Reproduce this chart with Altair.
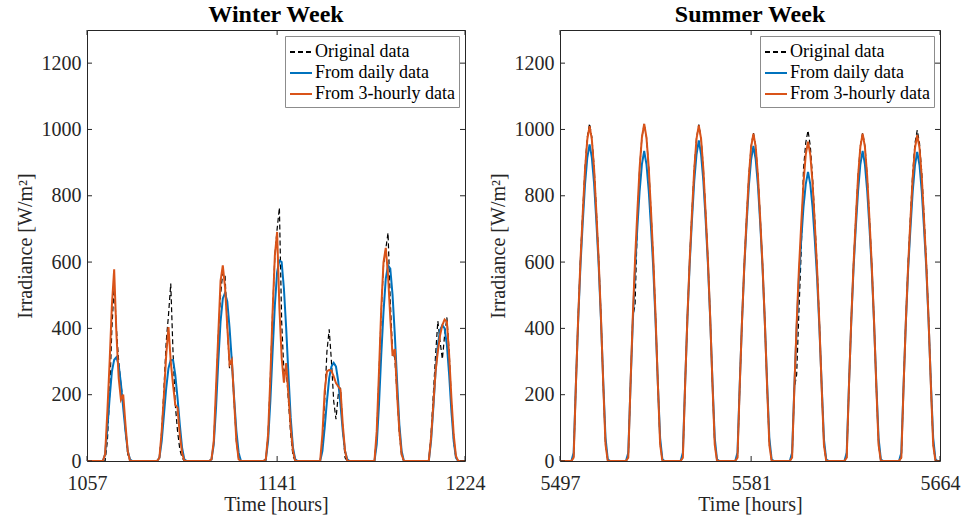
import altair as alt
import pandas as pd

# ---------------- data ----------------
series_names = ["Original data", "From daily data", "From 3-hourly data"]
series_colors = ["#000000", "#0072BD", "#D95319"]
series_dash = [[5, 3], [1, 0], [1, 0]]
series_width = [1.2, 2.0, 2.0]

y_ticks = [0, 200, 400, 600, 800, 1000, 1200]

winter_range = [1057, 1224]
winter_xticks = [1057, 1141, 1224]
summer_range = [5497, 5664]
summer_xticks = [5497, 5581, 5664]

# each entry: (first hour, hourly values) ; hours not listed are 0
winter_original = [
    (1065, [0, 60, 200, 400, 530, 400, 300, 230, 180, 90, 20, 0]),
    (1089, [10, 90, 220, 360, 440, 535, 330, 170, 90, 35, 10, 0]),
    (1112, [0, 60, 200, 380, 500, 570, 560, 400, 280, 300, 180, 60, 5, 0]),
    (1136, [0, 80, 250, 450, 620, 700, 764, 420, 270, 280, 180, 80, 15, 0]),
    (1160, [0, 50, 180, 330, 397, 300, 180, 126, 200, 221, 100, 10, 0]),
    (1184, [0, 80, 260, 450, 590, 640, 688, 480, 330, 310, 200, 80, 15, 0]),
    (1208, [0, 80, 200, 320, 422, 360, 307, 380, 433, 330, 180, 60, 10, 0]),
]
winter_daily = [
    (1064, [0, 20, 100, 190, 270, 305, 313, 290, 232, 160, 90, 30, 5, 0]),
    (1088, [0, 10, 60, 140, 220, 280, 305, 305, 260, 190, 110, 40, 5, 0]),
    (1111, [0, 5, 50, 160, 300, 420, 490, 507, 480, 400, 300, 190, 90, 25, 0]),
    (1135, [0, 5, 60, 180, 330, 470, 570, 605, 600, 520, 400, 260, 130, 40, 5, 0]),
    (1159, [0, 0, 30, 100, 180, 250, 285, 296, 285, 240, 170, 90, 30, 5, 0]),
    (1183, [0, 0, 50, 170, 320, 450, 550, 590, 580, 500, 380, 240, 110, 30, 0]),
    (1207, [0, 0, 60, 160, 270, 350, 395, 410, 400, 350, 260, 150, 60, 10, 0]),
]
winter_3hourly = [
    (1064, [0, 20, 150, 300, 470, 578, 383, 250, 185, 200, 110, 30, 0]),
    (1088, [0, 10, 90, 200, 320, 404, 300, 230, 170, 160, 80, 25, 0]),
    (1111, [0, 5, 60, 221, 382, 543, 590, 523, 402, 291, 305, 181, 60, 5, 0]),
    (1135, [0, 5, 80, 250, 450, 620, 691, 462, 311, 236, 295, 200, 100, 30, 0]),
    (1159, [0, 0, 80, 210, 270, 275, 272, 255, 235, 225, 215, 110, 30, 0]),
    (1183, [0, 0, 90, 270, 460, 600, 643, 560, 430, 317, 338, 200, 90, 20, 0]),
    (1207, [0, 0, 70, 170, 271, 330, 380, 410, 427, 420, 320, 190, 80, 15, 0]),
]

summer_original = [
    (5502, [0, 10, 234, 438, 611, 753, 886, 977, 1018, 977, 886, 753, 611, 438, 234, 50, 0]),
    (5526, [0, 10, 234, 437, 470, 720, 885, 976, 1017, 976, 885, 753, 610, 437, 234, 50, 0]),
    (5550, [0, 10, 233, 436, 609, 751, 883, 974, 1015, 974, 883, 751, 609, 436, 233, 50, 0]),
    (5574, [0, 10, 228, 426, 594, 733, 861, 950, 990, 950, 861, 733, 594, 426, 228, 50, 0]),
    (5598, [0, 10, 221, 260, 450, 630, 880, 960, 997, 950, 855, 725, 585, 418, 224, 50, 0]),
    (5622, [0, 10, 228, 426, 594, 733, 861, 950, 990, 950, 861, 733, 594, 426, 228, 50, 0]),
    (5646, [0, 10, 230, 429, 599, 738, 868, 958, 998, 958, 868, 738, 599, 429, 230, 50, 0]),
]
summer_daily = [
    (5502, [0, 25, 235, 425, 590, 720, 835, 915, 955, 915, 835, 720, 590, 425, 240, 70, 5]),
    (5526, [0, 25, 230, 420, 580, 705, 815, 895, 935, 895, 815, 705, 580, 420, 235, 70, 5]),
    (5550, [0, 25, 235, 430, 595, 728, 845, 925, 967, 925, 845, 728, 595, 430, 240, 70, 5]),
    (5574, [0, 25, 233, 423, 585, 715, 830, 910, 950, 910, 830, 715, 585, 423, 238, 70, 5]),
    (5598, [0, 25, 225, 400, 550, 665, 765, 835, 872, 835, 765, 665, 550, 400, 230, 65, 5]),
    (5622, [0, 25, 230, 420, 580, 705, 815, 895, 935, 895, 815, 705, 580, 420, 235, 70, 5]),
    (5646, [0, 25, 230, 418, 578, 700, 812, 892, 932, 892, 812, 700, 578, 418, 235, 70, 5]),
]
summer_3hourly = [
    (5502, [0, 10, 232, 434, 606, 747, 879, 970, 1010, 970, 879, 747, 606, 434, 232, 50, 0]),
    (5526, [0, 10, 234, 437, 610, 753, 885, 976, 1017, 976, 885, 753, 610, 437, 234, 50, 0]),
    (5550, [0, 10, 233, 435, 607, 749, 880, 972, 1012, 972, 880, 749, 607, 435, 233, 50, 0]),
    (5574, [0, 10, 227, 424, 592, 730, 859, 948, 987, 948, 859, 730, 592, 424, 227, 49, 0]),
    (5598, [0, 10, 221, 414, 578, 713, 838, 924, 963, 924, 838, 713, 578, 414, 221, 48, 0]),
    (5622, [0, 10, 227, 424, 592, 730, 859, 948, 987, 948, 859, 730, 592, 424, 227, 49, 0]),
    (5646, [0, 10, 226, 423, 590, 727, 855, 944, 983, 944, 855, 727, 590, 423, 226, 49, 0]),
]

# ---------------- build tables ----------------
def expand(chunks, rng, name):
    vals = {}
    for start, values in chunks:
        for i, v in enumerate(values):
            vals[start + i] = v
    return [{"hour": h, "value": vals.get(h, 0), "series": name}
            for h in range(rng[0], rng[1] + 1)]

def table(orig, daily, hourly3, rng):
    rows = (expand(orig, rng, series_names[0]) + expand(daily, rng, series_names[1])
            + expand(hourly3, rng, series_names[2]))
    return pd.DataFrame(rows)

FONT = "Liberation Serif"
TXT = "#262626"
H = 431
TICK = 5

def panel(df, rng, xticks, title, W):
    xs = alt.Scale(domain=rng, nice=False, zero=False)
    ys = alt.Scale(domain=[0, 1300], nice=False)
    xenc = alt.X("hour:Q", scale=xs,
                 axis=alt.Axis(values=xticks, format="d", title="Time [hours]",
                               labelFlush=False, labelPadding=12, titlePadding=1))
    yenc = alt.Y("value:Q", scale=ys,
                 axis=alt.Axis(values=y_ticks, format="d", title="Irradiance [W/m²]",
                               labelPadding=6, titlePadding=6))
    color = alt.Color("series:N", title="",
                      scale=alt.Scale(domain=series_names, range=series_colors),
                      legend=alt.Legend(orient="top-right", offset=6,
                                        symbolType="stroke", symbolSize=484,
                                        symbolStrokeWidth=2, labelFont=FONT,
                                        labelFontSize=18, labelColor="#000000",
                                        labelOffset=2, rowPadding=0,
                                        strokeColor="#8c8c8c", fillColor="#ffffff",
                                        padding=4, titlePadding=0, titleFontSize=0,
                                        labelLimit=300))
    dash = alt.StrokeDash("series:N", title="",
                          scale=alt.Scale(domain=series_names, range=series_dash))
    layers = []
    for name, w in zip(series_names, series_width):
        layers.append(
            alt.Chart(df[df["series"] == name]).mark_line(strokeWidth=w, clip=True)
            .encode(x=xenc, y=yenc, color=color, strokeDash=dash)
        )
    ydf = pd.DataFrame({"v": y_ticks})
    xdf = pd.DataFrame({"h": xticks})
    tick_l = alt.Chart(ydf).mark_rule(color=TXT, strokeWidth=1).encode(
        y=alt.Y("v:Q", scale=ys), x=alt.value(0), x2=alt.value(TICK))
    tick_r = alt.Chart(ydf).mark_rule(color=TXT, strokeWidth=1).encode(
        y=alt.Y("v:Q", scale=ys), x=alt.value(W - TICK), x2=alt.value(W))
    tick_b = alt.Chart(xdf).mark_rule(color=TXT, strokeWidth=1).encode(
        x=alt.X("h:Q", scale=xs), y=alt.value(H), y2=alt.value(H - TICK))
    tick_t = alt.Chart(xdf).mark_rule(color=TXT, strokeWidth=1).encode(
        x=alt.X("h:Q", scale=xs), y=alt.value(0), y2=alt.value(TICK))
    return alt.layer(*layers, tick_l, tick_r, tick_b, tick_t).properties(
        width=W, height=H,
        title=alt.TitleParams(title, font=FONT, fontSize=24, fontWeight="bold",
                              color="#000000", offset=3),
    )

winter_df = table(winter_original, winter_daily, winter_3hourly, winter_range)
summer_df = table(summer_original, summer_daily, summer_3hourly, summer_range)

left = panel(winter_df, winter_range, winter_xticks, "Winter Week", 378)
right = panel(summer_df, summer_range, summer_xticks, "Summer Week", 380)

chart = (
    alt.hconcat(left, right, spacing=1)
    .resolve_scale(color="independent", strokeDash="independent", x="independent")
    .resolve_legend(color="independent", strokeDash="independent")
    .properties(padding={"left": 14, "top": 2, "right": 0, "bottom": 0},
                background="#ffffff")
    .configure_view(stroke=TXT, strokeWidth=1)
    .configure_axis(labelFont=FONT, labelFontSize=20, titleFont=FONT, titleFontSize=20,
                    titleFontWeight="normal", labelColor=TXT, titleColor=TXT,
                    ticks=False, domain=False, grid=False)
)

chart.save("out.html", embed_options={"renderer": "svg", "actions": False})
